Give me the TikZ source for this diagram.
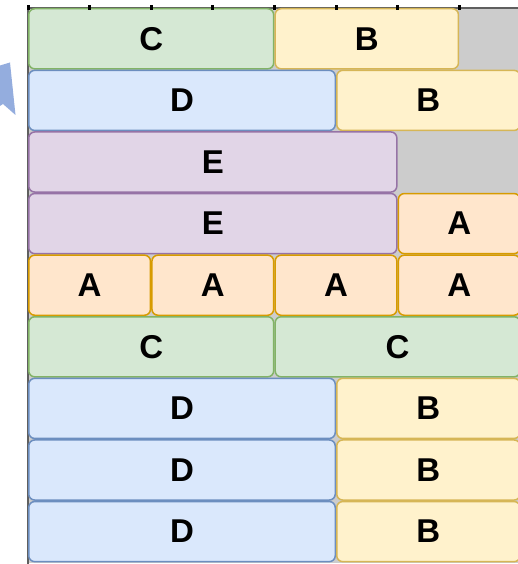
\documentclass[tikz,border=0pt]{standalone}
\usepackage{fontspec}
\setmainfont{Liberation Sans}
\begin{document}
\begin{tikzpicture}[x=1pt,y=-1pt,
  cell/.style={draw, rounded corners=6pt, line width=1.5pt, inner sep=0pt, outer sep=0pt,
    font=\fontsize{33}{33}\selectfont\bfseries},
  cA/.style={cell, fill=oA, draw=sA},
  cB/.style={cell, fill=oB, draw=sB},
  cC/.style={cell, fill=oC, draw=sC},
  cD/.style={cell, fill=oD, draw=sD},
  cE/.style={cell, fill=oE, draw=sE},
  tick/.style={fill=black, draw=none, minimum width=3pt, minimum height=5pt, inner sep=0pt}
]
\definecolor{oA}{HTML}{FFE6CC}\definecolor{sA}{HTML}{D79B00}
\definecolor{oB}{HTML}{FFF2CC}\definecolor{sB}{HTML}{D6B656}
\definecolor{oC}{HTML}{D5E8D4}\definecolor{sC}{HTML}{82B366}
\definecolor{oD}{HTML}{DAE8FC}\definecolor{sD}{HTML}{6C8EBF}
\definecolor{oE}{HTML}{E1D5E7}\definecolor{sE}{HTML}{9673A6}
\definecolor{bg}{HTML}{CCCCCC}
\definecolor{frame}{HTML}{5F5F5F}
\definecolor{arrowblue}{HTML}{94ADDE}
\useasboundingbox (0,0) rectangle (518,564);
\clip (0,0) rectangle (518,564);
\def\W{61.6}\def\H{61.6}
% container background and frame
\fill[bg] (28,8) rectangle (522,563);
\draw[frame, line width=2pt] (28,566) -- (28,8) -- (522,8);
% partial arrow at left
\fill[arrowblue] (0,65.5) -- (10,62.5) -- (15.5,115) -- (3,104) -- (0,106) -- cycle;
% cell macro: name, first col, ncols, row, style, text
\newcommand{\mycell}[6]{%
  \node[#5, minimum width={#3*\W-1.5}, minimum height={\H-1.5}]
    (#1) at ({28+(#2+#3/2)*\W},{8+(#4+0.5)*\H}) {#6};}
% row 0
\mycell{r0c}{0}{4}{0}{cC}{C}
\mycell{r0b}{4}{3}{0}{cB}{B}
% row 1
\mycell{r1d}{0}{5}{1}{cD}{D}
\mycell{r1b}{5}{3}{1}{cB}{B}
% row 2
\mycell{r2e}{0}{6}{2}{cE}{E}
% row 3
\mycell{r3e}{0}{6}{3}{cE}{E}
\mycell{r3a}{6}{2}{3}{cA}{A}
% row 4
\mycell{r4a1}{0}{2}{4}{cA}{A}
\mycell{r4a2}{2}{2}{4}{cA}{A}
\mycell{r4a3}{4}{2}{4}{cA}{A}
\mycell{r4a4}{6}{2}{4}{cA}{A}
% row 5
\mycell{r5c1}{0}{4}{5}{cC}{C}
\mycell{r5c2}{4}{4}{5}{cC}{C}
% rows 6-8
\mycell{r6d}{0}{5}{6}{cD}{D}
\mycell{r6b}{5}{3}{6}{cB}{B}
\mycell{r7d}{0}{5}{7}{cD}{D}
\mycell{r7b}{5}{3}{7}{cB}{B}
\mycell{r8d}{0}{5}{8}{cD}{D}
\mycell{r8b}{5}{3}{8}{cB}{B}
% ticks on top edge
\foreach \k in {0,...,7} {
  \node[tick] (t\k) at ({28+\k*\W},8) {};
}
\end{tikzpicture}
\end{document}
